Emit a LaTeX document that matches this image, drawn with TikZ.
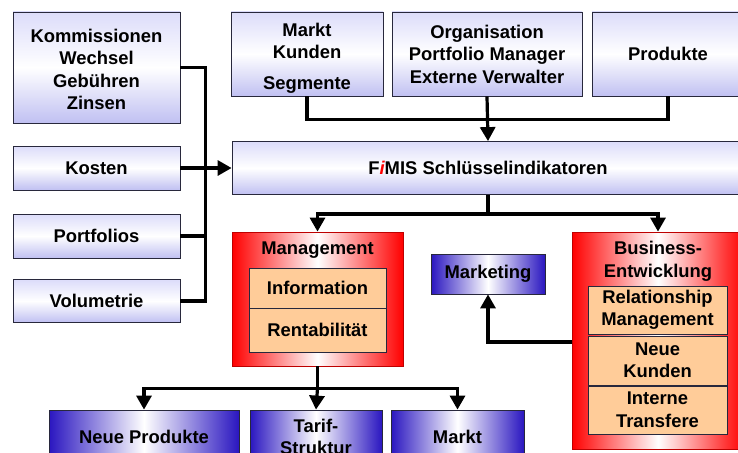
\documentclass[tikz,border=0pt]{standalone}
\usepackage{fontspec}
\setmainfont{Liberation Sans}
\usetikzlibrary{arrows.meta,calc}
\definecolor{lavtop}{RGB}{220,220,250}
\definecolor{lavbot}{RGB}{192,192,242}
\definecolor{bluebox}{RGB}{42,22,192}
\definecolor{peach}{RGB}{255,204,153}
\definecolor{boxline}{RGB}{40,40,60}
\definecolor{redline}{RGB}{190,0,0}
\begin{document}
\begin{tikzpicture}[x=1pt,y=-1pt,
  font=\fontsize{18.4}{22.5}\selectfont\bfseries,
  box/.style={rectangle,inner sep=0pt,align=center,line width=0.8pt},
  lav/.style={box,draw=boxline,top color=lavtop,bottom color=lavbot,middle color=white},
  bluegrad/.style={box,draw=boxline,left color=bluebox,right color=bluebox,middle color=white},
  redgrad/.style={box,draw=redline,left color=red,right color=red,middle color=white},
  inner/.style={box,draw=boxline,fill=peach},
  conn/.style={line width=3.2pt},
  arr/.style={-{Triangle[width=15pt,length=14pt]}},
  plain/.style={inner sep=0pt,align=center}
]
\useasboundingbox (0,0) rectangle (738,452);
\clip (0,0) rectangle (738,452);

% left column
\node[lav,minimum width=167pt,minimum height=111pt] (komm) at (96.5,67.5) {};
\node[plain] (kommtext) at (96.5,69.5) {Kommissionen\\Wechsel\\Gebühren\\Zinsen};
\node[lav,minimum width=167pt,minimum height=44pt] (kosten) at (96.5,168) {Kosten};
\node[lav,minimum width=167pt,minimum height=44pt] (portf) at (96.5,236) {Portfolios};
\node[lav,minimum width=167pt,minimum height=43pt] (volum) at (96.5,301) {Volumetrie};

% top row
\node[lav,minimum width=152pt,minimum height=84pt] (markt) at (307,54) {};
\node[plain] (markttext) at (307,58) {Markt\\Kunden\\[8pt]Segmente};
\node[lav,minimum width=190pt,minimum height=84pt] (org) at (487,54) {Organisation\\Portfolio Manager\\Externe Verwalter};
\node[lav,minimum width=152pt,minimum height=84pt] (prod) at (668,54) {Produkte};

% FiMIS
\node[lav,minimum width=512pt,minimum height=53pt] (fimis) at (488,168) {F{\color{red}\itshape i}MIS Schlüsselindikatoren};

% Management
\node[redgrad,minimum width=171pt,minimum height=134pt] (mgmt) at (317.5,299) {};
\node[plain] (mgmttitle) at (317.5,250) {Management};
\node[inner,minimum width=137pt,minimum height=40pt] (info) at (317.5,288) {Information};
\node[inner,minimum width=137pt,minimum height=44pt] (rent) at (317.5,330) {Rentabilität};

% Marketing
\node[bluegrad,minimum width=114pt,minimum height=40pt] (mkting) at (488,274) {Marketing};

% Business
\node[redgrad,minimum width=172pt,minimum height=217pt] (bus) at (658,340.5) {};
\node[plain] (bustitle) at (658,261.5) {Business-\\Entwicklung};
\node[inner,minimum width=139pt,minimum height=48pt] (rel) at (657.5,310) {Relationship\\Management};
\node[inner,minimum width=139pt,minimum height=49pt] (neue) at (657.5,360.5) {Neue\\Kunden};
\node[inner,minimum width=139pt,minimum height=48pt] (intern) at (657.5,410) {Interne\\Transfere};

% bottom row
\node[bluegrad,minimum width=190pt,minimum height=54pt] (np) at (144,437) {Neue Produkte};
\node[bluegrad,minimum width=132pt,minimum height=54pt] (tarif) at (316,437) {Tarif-\\Struktur};
\node[bluegrad,minimum width=133pt,minimum height=54pt] (mk2) at (457.5,437) {Markt};

% connectors left
\draw[conn] (komm.east) -| ($(volum.east)+(25,0)$) -- (volum.east);
\draw[conn] (portf.east) -- ++(25,0);
\draw[conn,arr] (kosten.east) -- (fimis.west);

% connectors top
\draw[conn] (markt.south) -- ++(0,23) -| (prod.south);
\draw[conn,arr] (org.south) -- (fimis.north);

% FiMIS down
\coordinate (fsplit) at ($(fimis.south)+(0,19)$);
\draw[conn] (fimis.south) -- (fsplit);
\draw[conn,arr] (fsplit) -| (mgmt.north);
\draw[conn,arr] (fsplit) -| (bus.north);

% Business -> Marketing
\draw[conn,arr] ($(bus.west)+(0,1.5)$) -| (mkting.south);

% Management down
\coordinate (msplit) at ($(mgmt.south)+(0,22)$);
\draw[conn] (mgmt.south) -- (msplit);
\draw[conn,arr] (msplit) -| (np.north);
\draw[conn,arr] (msplit) -| (mk2.north);
\draw[conn,arr] (msplit) -- (tarif.north);
\end{tikzpicture}
\end{document}
